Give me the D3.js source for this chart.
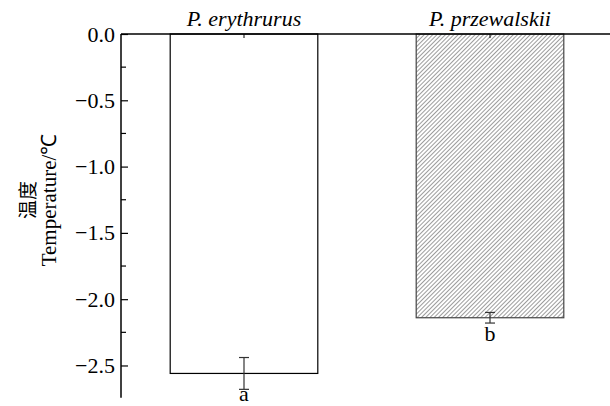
<!DOCTYPE html>
<html>
<head>
<meta charset="utf-8">
<script src="https://cdn.jsdelivr.net/npm/d3@7"></script>
<style>
  body { margin: 0; background: #fff; }
  svg text { font-family: "Liberation Serif", "Times New Roman", serif; fill: #000; }
</style>
</head>
<body>
<div id="chart"></div>
<script>
const species = ["P. erythrurus", "P. przewalskii"];
const temps = [-2.56, -2.14];
const errs = [0.12, 0.04];
const letters = ["a", "b"];
const yTicks = [0.0, -0.5, -1.0, -1.5, -2.0, -2.5];

const width = 610, height = 406;
const margin = {left: 121, right: 0, top: 34, bottom: 8};
const serif = "'Liberation Serif', 'Times New Roman', serif";

const svg = d3.select("#chart").append("svg")
    .attr("width", width)
    .attr("height", height);

// hatch pattern for second bar
const defs = svg.append("defs");
defs.append("pattern")
    .attr("id", "hatch")
    .attr("patternUnits", "userSpaceOnUse")
    .attr("width", 3).attr("height", 3)
    .attr("patternTransform", "rotate(45)")
    .append("line")
    .attr("x1", 0).attr("y1", 0).attr("x2", 0).attr("y2", 3)
    .attr("stroke", "#222").attr("stroke-width", 0.9);

const yScale = d3.scaleLinear()
    .domain([0, -2.743])
    .range([margin.top, 397.7]);

const xScale = d3.scaleBand()
    .domain(species)
    .range([121, 613])
    .paddingInner(0.4)
    .paddingOuter(0.2);

// bars
svg.selectAll("rect.bar")
    .data(species)
    .enter().append("rect")
    .attr("class", "bar")
    .attr("x", d => xScale(d))
    .attr("y", yScale(0))
    .attr("width", xScale.bandwidth())
    .attr("height", (d, i) => yScale(temps[i]) - yScale(0))
    .attr("fill", (d, i) => i === 1 ? "url(#hatch)" : "#fff")
    .attr("stroke", (d, i) => i === 1 ? "#444" : "#000")
    .attr("stroke-width", 1.2);

// error bars
const cx = d => xScale(d) + xScale.bandwidth() / 2;
const eb = svg.append("g").attr("stroke", "#333").attr("stroke-width", 1.2);
species.forEach((d, i) => {
    const lo = yScale(temps[i] - errs[i]), hi = yScale(temps[i] + errs[i]);
    eb.append("line").attr("x1", cx(d)).attr("x2", cx(d)).attr("y1", hi).attr("y2", lo);
    eb.append("line").attr("x1", cx(d) - 5).attr("x2", cx(d) + 5).attr("y1", hi).attr("y2", hi);
    eb.append("line").attr("x1", cx(d) - 5).attr("x2", cx(d) + 5).attr("y1", lo).attr("y2", lo);
    svg.append("text")
        .attr("x", cx(d)).attr("y", Math.min(lo + 18, height - 5))
        .attr("text-anchor", "middle")
        .style("font-family", serif)
        .style("font-size", "22px")
        .text(letters[i]);
});

// y axis (ticks inward)
const yAxis = d3.axisRight(yScale)
    .tickValues(yTicks)
    .tickSize(7)
    .tickFormat(d3.format(".1f"));
const gy = svg.append("g")
    .attr("transform", "translate(" + margin.left + ",0)")
    .attr("font-family", null)
    .call(yAxis);
gy.select(".domain").remove();
gy.selectAll(".tick line").attr("stroke", "#000").attr("stroke-width", 1.2);
gy.selectAll(".tick text")
    .attr("x", -6)
    .attr("text-anchor", "end")
    .style("font-family", serif)
    .style("font-size", "22px")
    .text(d => d === 0 ? "0.0" : "\u2212" + d3.format(".1f")(-d));
// minor ticks
gy.selectAll("line.minor")
    .data(d3.range(-0.25, -2.75, -0.5))
    .enter().append("line")
    .attr("class", "minor")
    .attr("x1", 0).attr("x2", 5)
    .attr("y1", d => yScale(d)).attr("y2", d => yScale(d))
    .attr("stroke", "#000").attr("stroke-width", 1.2);
gy.append("line")
    .attr("x1", 0).attr("x2", 0)
    .attr("y1", yScale(0)).attr("y2", yScale(-2.743))
    .attr("stroke", "#000").attr("stroke-width", 1.5);

// top axis with category labels
const xAxis = d3.axisBottom(xScale).tickSize(4).tickSizeOuter(0);
const gx = svg.append("g")
    .attr("transform", "translate(0," + margin.top + ")")
    .call(xAxis);
gx.select(".domain").remove();
gx.selectAll(".tick line").attr("stroke", "#000");
gx.selectAll(".tick text")
    .attr("y", -8).attr("dy", 0)
    .style("font-family", serif)
    .style("font-size", "22px")
    .style("font-style", "italic");
svg.append("line")
    .attr("x1", margin.left).attr("x2", width)
    .attr("y1", yScale(0)).attr("y2", yScale(0))
    .attr("stroke", "#000").attr("stroke-width", 1.5);

// y axis title
const yTitle = svg.append("text")
    .attr("transform", "translate(0,200) rotate(-90)")
    .attr("text-anchor", "middle");
yTitle.append("tspan")
    .attr("x", 0).attr("y", 35)
    .style("font-family", "'Noto Sans CJK SC', sans-serif")
    .style("font-size", "19px")
    .text("温度");
yTitle.append("tspan")
    .attr("x", 0).attr("y", 56)
    .style("font-family", serif)
    .style("font-size", "21px")
    .text("Temperature/℃");
</script>
</body>
</html>
